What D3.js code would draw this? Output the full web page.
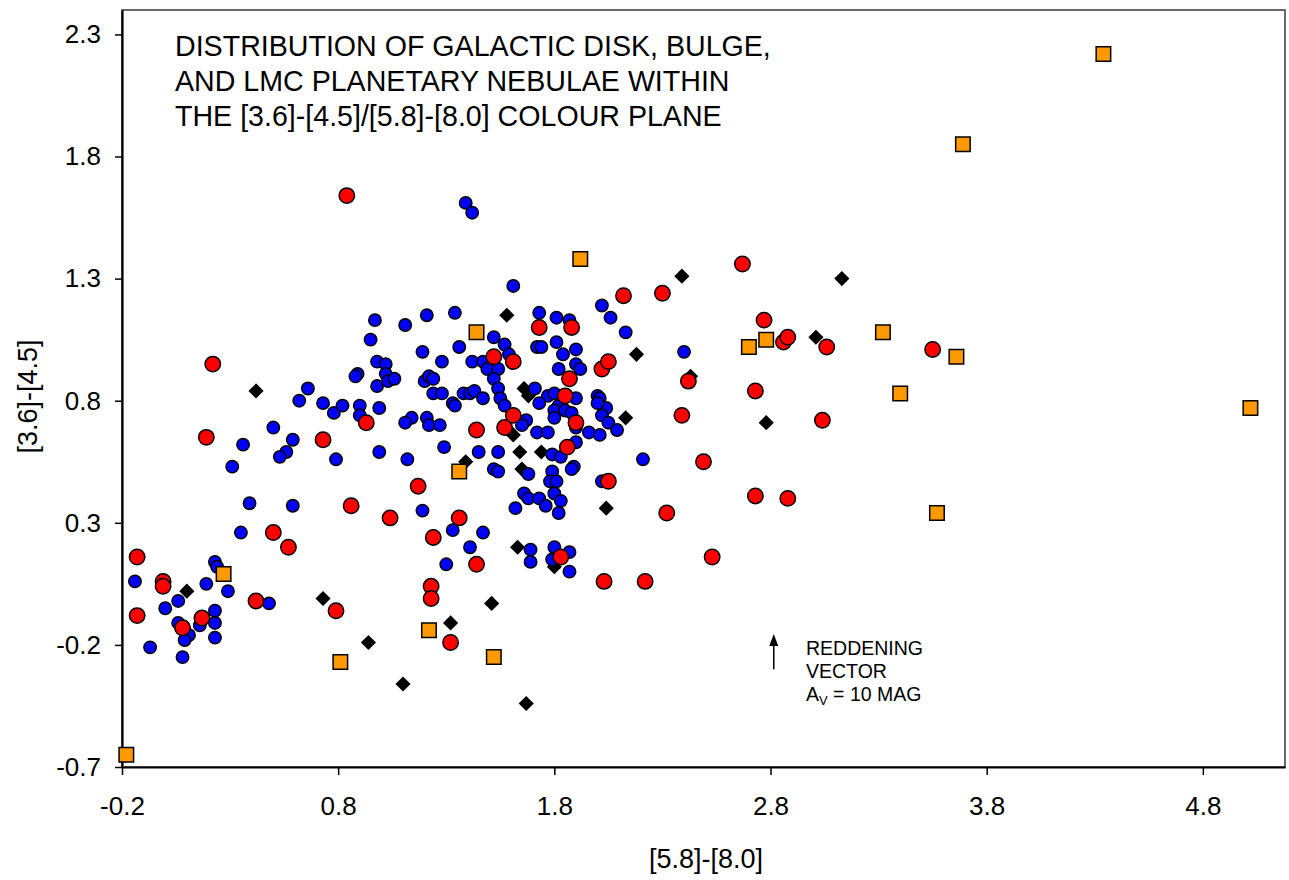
<!DOCTYPE html>
<html>
<head>
<meta charset="utf-8">
<script src="https://cdn.jsdelivr.net/npm/d3@7"></script>
<style>
  html, body { margin: 0; padding: 0; background: #fff; }
  svg { display: block; font-family: Arial, "Liberation Sans", sans-serif; }
</style>
</head>
<body>
<svg id="chart" width="1289" height="880"></svg>
<script>
// [5.8]-[8.0] (x) and [3.6]-[4.5] (y) colours of planetary nebulae
const diskPN = [
  [-0.14,0.06],[0.23,0.14],[0.24,0.12],[0.19,0.05],[0.29,0.02],[0.06,-0.02],[0.00,-0.05],[0.48,-0.03],
  [0.23,-0.06],[0.16,-0.12],[0.23,-0.11],[0.06,-0.11],[0.11,-0.16],[0.09,-0.18],[0.23,-0.17],[-0.07,-0.21],
  [0.08,-0.25],[0.35,0.26],[0.39,0.38],[0.59,0.37],[0.31,0.53],[0.36,0.62],[0.50,0.69],[0.59,0.64],
  [0.56,0.59],[0.53,0.57],[0.66,0.85],[0.62,0.80],[0.73,0.79],[0.78,0.75],[0.82,0.78],[0.79,0.56],
  [0.90,0.78],[0.90,0.74],[0.99,0.77],[0.98,0.86],[0.89,0.91],[0.88,0.90],[0.98,0.96],[0.95,1.05],
  [0.99,0.59],[0.97,1.13],[1.11,1.11],[1.21,1.15],[1.34,1.16],[1.19,1.00],[1.36,1.02],[1.52,1.06],
  [1.57,1.03],[1.02,0.95],[1.28,0.96],[1.42,0.96],[1.47,0.96],[1.49,0.93],[1.54,0.93],[1.02,0.91],
  [1.03,0.88],[1.06,0.89],[1.20,0.88],[1.22,0.90],[1.24,0.89],[1.52,0.89],[1.24,0.83],[1.28,0.83],
  [1.38,0.83],[1.41,0.83],[1.43,0.84],[1.47,0.81],[1.54,0.85],[1.55,0.81],[1.57,0.78],[1.33,0.79],
  [1.34,0.78],[1.14,0.73],[1.11,0.71],[1.21,0.73],[1.22,0.70],[1.27,0.70],[1.29,0.61],[1.12,0.56],
  [1.45,0.59],[1.54,0.59],[1.19,0.35],[1.33,0.27],[1.47,0.26],[1.41,0.20],[1.30,0.13],[1.52,0.52],
  [1.54,0.51],[1.61,1.27],[2.02,1.19],[2.06,1.14],[1.73,1.16],[1.81,1.14],[1.87,1.13],[2.13,1.08],
  [1.72,1.02],[1.74,1.02],[1.81,1.04],[1.84,0.99],[1.90,1.01],[1.59,0.99],[1.82,0.93],[1.90,0.95],
  [1.92,0.93],[1.71,0.85],[1.77,0.82],[1.80,0.83],[1.90,0.81],[1.73,0.79],[1.82,0.78],[1.80,0.76],
  [1.85,0.76],[1.88,0.75],[2.00,0.82],[2.01,0.81],[2.04,0.77],[2.00,0.79],[2.02,0.74],[2.05,0.71],
  [2.09,0.68],[1.96,0.67],[2.01,0.66],[1.90,0.69],[1.67,0.72],[1.65,0.70],[1.72,0.67],[1.77,0.67],
  [1.80,0.73],[1.79,0.58],[1.83,0.57],[1.90,0.63],[2.21,0.56],[1.68,0.50],[1.79,0.51],[1.89,0.53],
  [1.88,0.52],[1.78,0.47],[1.81,0.47],[2.02,0.47],[1.66,0.42],[1.68,0.40],[1.73,0.40],[1.80,0.42],
  [1.83,0.39],[1.76,0.37],[1.62,0.36],[1.82,0.34],[1.69,0.19],[1.69,0.14],[1.80,0.20],[1.87,0.18],
  [1.79,0.15],[1.87,0.10],[2.40,1.00],[1.39,1.61],[1.42,1.57]
];
const bulgePN = [
  [0.84,1.64],[0.22,0.95],[0.19,0.65],[-0.13,0.16],[-0.01,0.06],[-0.01,0.04],[-0.13,-0.08],[0.08,-0.13],
  [0.17,-0.09],[0.42,-0.02],[0.50,0.26],[0.57,0.20],[0.86,0.37],[0.79,-0.06],[0.73,0.64],[0.93,0.71],
  [1.04,0.32],[1.17,0.45],[1.24,0.24],[1.23,0.04],[1.23,-0.01],[1.32,-0.19],[1.36,0.32],[1.44,0.68],
  [1.44,0.13],[1.52,0.98],[1.57,0.69],[1.61,0.96],[1.61,0.74],[1.73,1.10],[1.87,0.89],[1.85,0.82],
  [1.86,0.61],[1.88,1.10],[1.90,0.71],[1.83,0.16],[2.02,0.93],[2.05,0.96],[2.05,0.47],[2.03,0.06],
  [2.12,1.23],[2.22,0.06],[2.30,1.24],[2.32,0.34],[2.39,0.74],[2.42,0.88],[2.49,0.55],[2.53,0.16],
  [2.67,1.36],[2.73,0.84],[2.73,0.41],[2.77,1.13],[2.86,1.04],[2.88,1.06],[2.88,0.40],[3.06,1.02],
  [3.04,0.72],[3.55,1.01]
];
const extraPN = [
  [0.10,0.02],[0.42,0.84],[0.73,-0.01],[0.94,-0.19],[1.10,-0.36],[1.32,-0.11],[1.39,0.55],[1.51,-0.03],
  [1.58,1.15],[1.66,0.85],[1.68,0.82],[1.61,0.66],[1.64,0.59],[1.74,0.59],[1.65,0.52],[1.63,0.20],
  [1.80,0.12],[2.04,0.36],[2.13,0.73],[2.18,0.99],[2.39,1.31],[2.43,0.90],[2.78,0.71],[3.01,1.06],
  [3.13,1.30],[1.67,-0.44]
];
const lmcPN = [
  [4.34,2.22],[3.69,1.85],[1.92,1.38],[1.44,1.08],[3.32,1.08],[2.70,1.02],[2.78,1.05],[3.66,0.98],
  [3.40,0.83],[5.02,0.77],[1.36,0.51],[3.57,0.34],[0.27,0.09],[1.22,-0.14],[0.81,-0.27],[1.52,-0.25],
  [-0.18,-0.65]
];

const xTicks = [-0.2, 0.8, 1.8, 2.8, 3.8, 4.8];
const yTicks = [-0.7, -0.2, 0.3, 0.8, 1.3, 1.8, 2.3];
const titleLines = [
  "DISTRIBUTION OF GALACTIC DISK, BULGE,",
  "AND LMC PLANETARY NEBULAE WITHIN",
  "THE [3.6]-[4.5]/[5.8]-[8.0] COLOUR PLANE"
];
const xLabel = "[5.8]-[8.0]";
const yLabel = "[3.6]-[4.5]";
// reddening vector for A_V = 10 mag: [x, yStart, yEnd]
const reddening = [2.815, -0.30, -0.155];

const svg = d3.select("#chart");
const M = { left: 122, top: 10, right: 1285, bottom: 767 };

const x = d3.scaleLinear().domain([-0.2, 5.18]).range([M.left, M.right]);
const y = d3.scaleLinear().domain([-0.7, 2.4]).range([M.bottom, M.top]);

// plot frame
svg.append("rect")
  .attr("x", M.left).attr("y", M.top)
  .attr("width", M.right - M.left).attr("height", M.bottom - M.top)
  .attr("fill", "#fff").attr("stroke", "#444").attr("stroke-width", 1.6);

// axes (plain hyphen for negative values)
const fmt = v => d3.format(".1f")(v).replace("\u2212", "-");
const xAxis = svg.append("g")
  .attr("transform", `translate(0,${M.bottom})`)
  .call(d3.axisBottom(x).tickValues(xTicks).tickFormat(fmt).tickSize(8).tickSizeOuter(0).tickPadding(22));
const yAxis = svg.append("g")
  .attr("transform", `translate(${M.left},0)`)
  .call(d3.axisLeft(y).tickValues(yTicks).tickFormat(fmt).tickSize(7).tickSizeOuter(0).tickPadding(14));

[xAxis, yAxis].forEach(g => {
  g.select(".domain").attr("stroke", "#000").attr("stroke-width", 2.2);
  g.selectAll(".tick line").attr("stroke", "#000").attr("stroke-width", 1.5);
  g.selectAll(".tick text")
    .attr("fill", "#000")
    .style("font-family", "Arial, 'Liberation Sans', sans-serif")
    .style("font-size", "26px");
});

// axis titles
svg.append("text")
  .attr("x", 706).attr("y", 868)
  .attr("text-anchor", "middle")
  .style("font-size", "27px")
  .text(xLabel);
svg.append("text")
  .attr("transform", `translate(37,${(M.top + M.bottom) / 2 + 8}) rotate(-90)`)
  .attr("text-anchor", "middle")
  .style("font-size", "27px")
  .text(yLabel);

// title block inside the plot
svg.append("g").selectAll("text")
  .data(titleLines).join("text")
  .attr("x", 175)
  .attr("y", (d, i) => 55.5 + i * 35)
  .style("font-size", "28.6px")
  .text(d => d);

const plot = svg.append("g");
const stroke = "#000", sw = 1.5;

// diamonds
plot.append("g").selectAll("path")
  .data(extraPN).join("path")
  .attr("d", d3.symbol(d3.symbolSquare, 115)())
  .attr("transform", d => `translate(${x(d[0])},${y(d[1])}) rotate(45)`)
  .attr("fill", "#000");

// blue circles
plot.append("g").selectAll("circle")
  .data(diskPN).join("circle")
  .attr("cx", d => x(d[0])).attr("cy", d => y(d[1]))
  .attr("r", 6.2)
  .attr("fill", "#0000ff").attr("stroke", stroke).attr("stroke-width", sw);

// red circles
plot.append("g").selectAll("circle")
  .data(bulgePN).join("circle")
  .attr("cx", d => x(d[0])).attr("cy", d => y(d[1]))
  .attr("r", 7.7)
  .attr("fill", "#ff0000").attr("stroke", stroke).attr("stroke-width", sw);

// orange squares
plot.append("g").selectAll("path")
  .data(lmcPN).join("path")
  .attr("d", d3.symbol(d3.symbolSquare, 14.5 * 14.5)())
  .attr("transform", d => `translate(${x(d[0])},${y(d[1])})`)
  .attr("fill", "#ff9900").attr("stroke", stroke).attr("stroke-width", sw);

// reddening vector arrow
const ax = x(reddening[0]), ay0 = y(reddening[1]), ay1 = y(reddening[2]);
svg.append("line")
  .attr("x1", ax).attr("x2", ax).attr("y1", ay0).attr("y2", ay1 + 10)
  .attr("stroke", "#000").attr("stroke-width", 1.5);
svg.append("path")
  .attr("d", `M${ax},${ay1} L${ax - 4.5},${ay1 + 12} L${ax + 4.5},${ay1 + 12} Z`)
  .attr("fill", "#000");

const note = svg.append("g").style("font-size", "19.5px");
note.append("text").attr("x", 806).attr("y", 655).text("REDDENING");
note.append("text").attr("x", 806).attr("y", 678).text("VECTOR");
const av = note.append("text").attr("x", 806).attr("y", 701);
av.append("tspan").text("A");
av.append("tspan").attr("dy", 4).style("font-size", "13px").text("V");
av.append("tspan").attr("dy", -4).text(" = 10 MAG");
</script>
</body>
</html>
